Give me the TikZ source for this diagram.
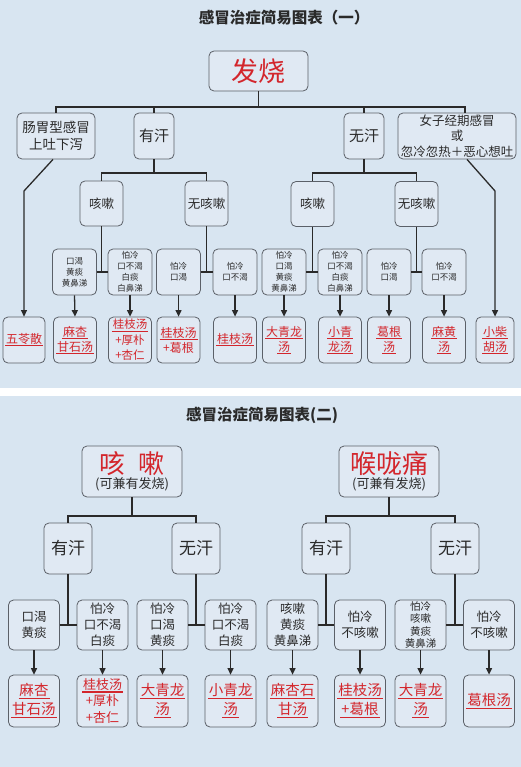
\documentclass[tikz,border=0pt]{standalone}
\usepackage{fontspec}
\setmainfont{Noto Sans CJK SC}
\usepackage{tikz}
\usetikzlibrary{arrows.meta,calc}
\definecolor{sky}{HTML}{D8E5F1}
\definecolor{boxfill}{HTML}{E0E9F3}
\definecolor{frame}{HTML}{5B6068}
\definecolor{ink}{HTML}{2A2A2A}
\definecolor{rx}{HTML}{D3262C}
\newcommand{\fsz}[2]{\fontsize{#1}{#2}\selectfont}
\newcommand{\rxline}[1]{\setbox0=\hbox{#1}\rlap{\hskip-1pt\rule[-0.24em]{\dimexpr\wd0+2pt\relax}{0.09em}}\box0}

\begin{document}
\begin{tikzpicture}[x=1pt,y=-1pt,
  box/.style={draw=frame,fill=boxfill,rounded corners=5pt,line width=0.8pt,align=center,inner sep=1pt,text=ink},
  topbox/.style={box,minimum width=99,minimum height=40,text=rx,font=\fsz{27}{30}},
  lvbox/.style={box,minimum height=46,font=\fsz{13.5}{17}},
  kbox/.style={box,minimum width=43,minimum height=45,font=\fsz{12.5}{15}},
  condbox/.style={box,minimum width=44,minimum height=46,font=\fsz{8.5}{11}},
  rxbox/.style={box,minimum width=43,minimum height=46,text=rx,font=\fsz{12}{15}},
  bigbox/.style={box,minimum width=100,minimum height=51},
  swbox/.style={box,minimum width=48,minimum height=51,font=\fsz{17}{20}},
  cond2/.style={box,minimum width=51,minimum height=50,font=\fsz{12.5}{16}},
  rx2/.style={box,minimum width=51,minimum height=52,text=rx,font=\fsz{14.5}{19}},
  link/.style={draw=ink,line width=1.3pt},
  arr/.style={link,-{Triangle[length=6.5pt,width=6pt]}}]
  \useasboundingbox (0,0) rectangle (521,767);
  \fill[sky] (0,0) rectangle (521,388);
  \fill[white] (0,388) rectangle (521,396);
  \fill[sky] (0,396) rectangle (521,767);

  % chart one
  \node[font=\fsz{15.5}{18}\bfseries,text=ink] (title1) at (284,18) {感冒治症简易图表（一）};
  \node[topbox] (fever) at (258.5,71) {发烧};

  \node[lvbox,minimum width=78] (gw) at (56,136) {肠胃型感冒\\上吐下泻};
  \node[lvbox,minimum width=40,font=\fsz{15}{17}] (yh1) at (154,136) {有汗};
  \node[lvbox,minimum width=40,font=\fsz{15}{17}] (wh1) at (364,136) {无汗};
  \node[lvbox,minimum width=118,inner sep=0pt,font=\fsz{12.5}{15.5}] (fm) at (457,136) {女子经期感冒\\或\\忽冷忽热＋恶心想吐};

  \coordinate (bus1) at (258.5,107);
  \draw[link] (fever.south) -- (bus1);
  \foreach \n in {gw,yh1,wh1} \draw[link] (\n.north) |- (bus1);
  \draw[link] ([xshift=8pt]fm.north) |- (bus1);

  \node[kbox] (k1) at (101.5,203.5) {咳嗽};
  \node[kbox] (nk1) at (206.5,203.5) {无咳嗽};
  \node[kbox] (k2) at (312.5,204) {咳嗽};
  \node[kbox] (nk2) at (416.5,204) {无咳嗽};
  \coordinate (bus2) at (154,173);
  \coordinate (bus3) at (364,173);
  \draw[link] (k1.north) |- (bus2) -- (yh1.south);
  \draw[link] (nk1.north) |- (bus2);
  \draw[link] (k2.north) |- (bus3) -- (wh1.south);
  \draw[link] (nk2.north) |- (bus3);

  \foreach \n/\x/\t in {c1/74.5/{口渴\\黄痰\\黄鼻涕}, c2/130/{怕冷\\口不渴\\白痰\\白鼻涕},
      c3/178.5/{怕冷\\口渴}, c4/235/{怕冷\\口不渴}, c5/284/{怕冷\\口渴\\黄痰\\黄鼻涕},
      c6/340/{怕冷\\口不渴\\白痰\\白鼻涕}, c7/389/{怕冷\\口渴}, c8/444/{怕冷\\口不渴}}
    \node[condbox] (\n) at (\x,272) {\t};

  \foreach \p/\a/\b in {k1/c1/c2, nk1/c3/c4, k2/c5/c6, nk2/c7/c8} {
    \draw[link] (\p.south) -- (\p.south |- \a.east);
    \draw[link] (\a.east) -- (\b.west);
  }

  \node[rxbox,minimum width=42] (r0) at (24,340) {\rxline{五苓散}};
  \node[rxbox] (r1) at (75,340) {\rxline{麻杏}\\\rxline{甘石汤}};
  \node[rxbox,font=\fsz{11.5}{15.5}] (r2) at (130,340) {\rxline{桂枝汤}\\+厚朴\\+杏仁};
  \node[rxbox] (r3) at (178.5,340) {\rxline{桂枝汤}\\+葛根};
  \node[rxbox] (r4) at (235,340) {\rxline{桂枝汤}};
  \node[rxbox] (r5) at (284,340) {\rxline{大青龙}\\\rxline{汤}};
  \node[rxbox] (r6) at (340,340) {\rxline{小青}\\\rxline{龙汤}};
  \node[rxbox] (r7) at (389,340) {\rxline{葛根}\\\rxline{汤}};
  \node[rxbox] (r8) at (444,340) {\rxline{麻黄}\\\rxline{汤}};
  \node[rxbox,minimum width=38] (r9) at (495,340) {\rxline{小柴}\\\rxline{胡汤}};

  \foreach \i in {1,...,8} \draw[arr] (c\i.south) -- (r\i.north);
  \coordinate (gwbend) at (24,191);
  \coordinate (fmbend) at (495,191);
  \draw[arr] ([xshift=-3pt]gw.south) -- (gwbend) -- (r0.north);
  \draw[arr] ([xshift=10pt]fm.south) -- (fmbend) -- (r9.north);

  % chart two
  \node[font=\fsz{15.5}{18}\bfseries,text=ink] (title2) at (262,415) {感冒治症简易图表(二)};
  \node[bigbox] (cough) at (132,471.5) {{\color{rx}\fsz{26}{28}咳\hspace{0.5em}嗽}\\[1pt]{\fsz{13}{15}(可兼有发烧)}};
  \node[bigbox] (throat) at (389,471.5) {{\color{rx}\fsz{26}{28}喉咙痛}\\[1pt]{\fsz{13}{15}(可兼有发烧)}};

  \node[swbox] (yh2) at (68,548.5) {有汗};
  \node[swbox] (wh2) at (196,548.5) {无汗};
  \node[swbox] (yh3) at (326,548.5) {有汗};
  \node[swbox] (wh3) at (455,548.5) {无汗};
  \coordinate (bus4) at (132,516);
  \coordinate (bus5) at (389,516);
  \draw[link] (yh2.north) |- (bus4) -- (cough.south);
  \draw[link] (wh2.north) |- (bus4);
  \draw[link] (yh3.north) |- (bus5) -- (throat.south);
  \draw[link] (wh3.north) |- (bus5);

  \foreach \n/\x/\t in {d1/34/{口渴\\黄痰}, d2/102.5/{怕冷\\口不渴\\白痰},
      d3/162.5/{怕冷\\口渴\\黄痰}, d4/230.5/{怕冷\\口不渴\\白痰},
      d5/292.5/{咳嗽\\黄痰\\黄鼻涕}, d6/360/{怕冷\\不咳嗽}, d8/489/{怕冷\\不咳嗽}}
    \node[cond2] (\n) at (\x,625) {\t};
  \node[cond2,font=\fsz{10.5}{12.5}] (d7) at (420.5,625) {怕冷\\咳嗽\\黄痰\\黄鼻涕};

  \foreach \p/\a/\b in {yh2/d1/d2, wh2/d3/d4, yh3/d5/d6, wh3/d7/d8} {
    \draw[link] (\p.south) -- (\p.south |- \a.east);
    \draw[link] (\a.east) -- (\b.west);
  }

  \node[rx2] (e1) at (34,701) {\rxline{麻杏}\\\rxline{甘石汤}};
  \node[rx2,font=\fsz{13}{16.5}] (e2) at (102.5,701) {\rxline{桂枝汤}\\+厚朴\\+杏仁};
  \node[rx2] (e3) at (162.5,701) {\rxline{大青龙}\\\rxline{汤}};
  \node[rx2] (e4) at (230.5,701) {\rxline{小青龙}\\\rxline{汤}};
  \node[rx2] (e5) at (292.5,701) {\rxline{麻杏石}\\\rxline{甘汤}};
  \node[rx2] (e6) at (360,701) {\rxline{桂枝汤}\\\rxline{+葛根}};
  \node[rx2] (e7) at (420.5,701) {\rxline{大青龙}\\\rxline{汤}};
  \node[rx2] (e8) at (489,701) {\rxline{葛根汤}};

  \foreach \i in {1,...,8} \draw[arr] (d\i.south) -- (e\i.north);
\end{tikzpicture}
\end{document}
